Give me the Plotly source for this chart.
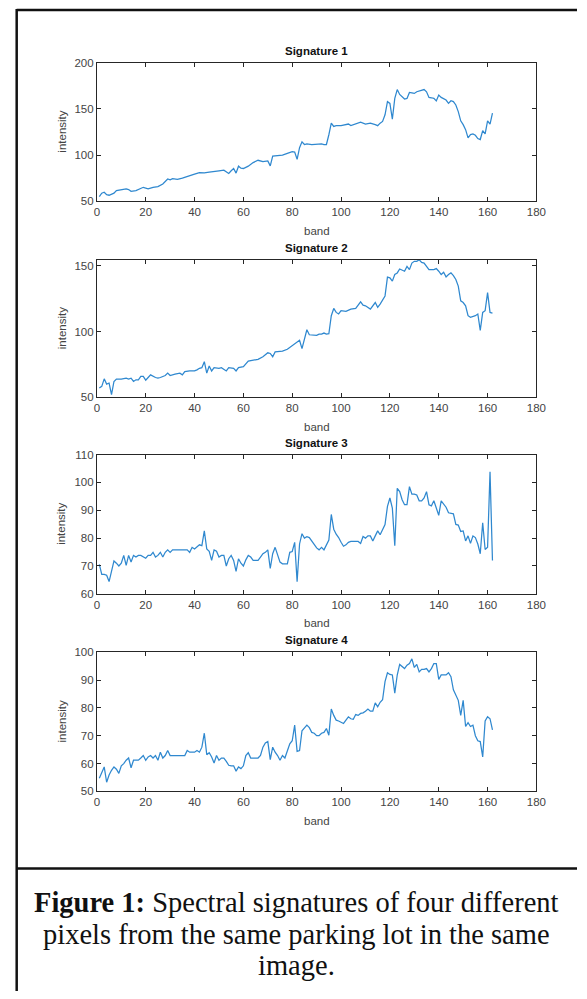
import plotly.graph_objects as go

# ---------------- data ----------------
sig1_band = [1,2,3,4,5,7,8,10,12,13,14,16,18,19,21,23,25,27,29,30,31,33,35,37,40,42,44,46,48,50,52,53,54,55,56,57,58,59,60,62,64,66,68,70,71,72,74,76,78,80,81,82,83,84,85,86,88,90,92,93,94,95,96,97,98,100,102,103,104,106,108,110,112,114,115,116,117,118,119,120,121,122,123,124,125,126,127,128,129,130,131,132,133,134,135,136,137,138,139,140,141,142,143,144,145,146,147,148,149,150,151,152,153,154,155,156,157,158,159,160,161,162]
sig1_val = [55,58.6,59.6,57,56.4,58.6,61.4,62.5,63.2,62.5,60.7,61.4,64,65,63.2,65,65.7,68.6,74,73,74.3,73.6,75,76.4,79.3,81,80.7,81.4,81.8,82.9,83.6,82,80,82.9,85.4,80.4,87.9,85.7,85.4,87.9,91.8,94.3,92.9,93.6,88.2,98.9,99.6,100,101.8,103.6,103.2,95.4,107.9,114.3,111.4,112.1,111.4,112.1,112.1,111.4,111.4,122,134.6,131,131.8,131.8,132.9,133.6,132,133.6,135.7,133.6,134.6,132.9,131.8,134.6,136.4,143.6,157.9,156,138.9,161.4,171,165.7,163.2,160.7,161.4,167.9,167.5,166.8,168.6,169.3,170.7,171,168.6,162.5,162.1,161.4,158.6,165,162.5,160.7,159.6,156,158.9,157.9,154.3,147.1,137.1,132.9,127.5,118.6,122.1,122.9,121.4,117.9,116.8,126.4,122.9,137.1,133.6,145.4]

sig2_band = [1,2,3,4,5,6,7,8,10,12,13,14,15,16,17,18,19,20,21,22,24,25,26,28,29,30,32,34,35,36,38,40,41,42,43,44,45,46,47,48,50,51,53,54,56,57,58,60,62,64,66,68,70,71,72,73,76,78,80,81,82,83,84,85,86,87,88,90,91,92,93,94,95,96,97,98,99,100,102,104,106,108,109,110,112,114,115,116,118,119,120,121,122,123,124,125,126,127,128,129,130,131,132,133,134,135,136,138,139,140,141,142,143,144,145,146,147,148,149,150,151,152,153,155,156,157,158,159,160,161,162]
sig2_val = [57,58.3,64,60,60.8,52,62,63.8,63.8,64.5,63.8,64.5,62,63.3,63.3,65.8,65.8,63,65,67,65,64.5,65,66.5,68.3,66.5,67.5,68.3,67,69.5,70,70,70.8,72,72.5,77,68.3,73.8,70,72.5,72,72.5,70,72.5,72,70,72.5,73.3,77.5,78,78.8,80.8,83.8,83.3,80.8,84.5,85,86.5,89.5,90.8,92,93.3,87,94,101.3,97.5,97.5,97,98,98,98.8,98,98.3,112,117.5,114.5,113.3,115.8,115.3,117,117.5,122.5,120,119.5,117,122,118.3,120.8,127,141.3,140.8,138.3,143.3,144.5,147.5,146.5,145.8,149.5,147,152,153.3,153.3,154.5,152.5,152,149.5,147,147,147.8,145.8,143.3,145,141.5,143.3,144.5,142.5,139.5,134.5,123.3,122,119.5,112,110.8,112,113.3,100.8,114.5,115.8,129.5,114.5,114]

sig3_band = list(range(1, 163))
sig3_val = [70.6,67,67,66.7,64.4,67.9,71.8,71,70,71,73.8,70.2,73.8,71.4,73.8,73.2,73.8,73.8,73.2,72.8,73.8,73.8,74.9,73.2,73.8,74.9,73.2,74.9,75.8,74.9,75.8,75.8,75.8,75.8,75.8,75.8,75.8,74.9,76.7,76.1,76.9,77.6,77.3,82.6,76.1,75.3,72,75.8,75.3,73.2,73.8,73.8,70,72.6,73.8,72,68.1,72.6,71,70,72.2,73.8,73.2,72,72,72,73.2,74.4,74.9,75.8,69.1,74.4,76.7,74.4,71.4,70.8,70.8,70.8,74.9,75.2,78.5,64.4,77.9,81.6,80,80.5,80.2,79,77.6,76.5,75.8,76.7,75.8,77.3,79.3,88.5,83.2,81.4,80.2,78.5,77.1,77.6,78.5,78.8,78.8,78.8,78.8,78.1,80.6,80,80.8,80.8,79,80.8,82.6,81.2,82.8,84.9,91.4,94.4,90.8,77.3,97.9,96.7,93.8,92,92,98.5,95.8,95.8,95.5,93.4,93.4,94.4,96.7,92,91.6,93.4,90.8,88.2,93.4,92,91.1,89.1,88.8,88.7,84.9,84.7,82.4,82.6,79,80.8,78.1,80.8,80.2,77.9,74.4,85.5,75.9,76.7,103.8,72]

sig4_band = list(range(1, 163))
sig4_val = [54.7,56.5,58.8,53.3,55.9,57.6,58.8,58,56.5,59.2,60,61.2,62,58.5,61.2,61.2,61.2,62,62.9,61.2,62.4,62.9,62,62.9,61.2,64.1,62,62.9,64.7,62.9,62.9,62.9,62.9,62.9,62.9,62.9,64.7,64.1,64.1,64.1,64.7,64.1,65.9,70.9,63.2,63.9,62.4,60.2,62.9,61.2,62,62,60.8,59.4,59.2,59.2,57.3,58.8,58.2,59.2,62.9,63.9,62,62,62,62,62.9,65.9,67.4,67.9,61.4,65.9,64.1,62.9,61.2,62.9,62,64.7,67.1,68.2,73.8,64.4,64.7,71.8,72.9,73.8,72.9,71.2,70.9,70,70,70.9,71.2,72.6,70.2,79.6,77.3,75.6,75.3,74.9,74.4,75.6,76.8,76.1,75.9,77.6,77.3,78,78.2,78.8,79.6,78.8,78.8,81.8,80.4,82,82.9,89.4,92.6,92,91.8,85.3,91.8,95.6,94.7,94.1,95.3,95.9,97.6,94.5,95.6,92.9,93.8,93.8,94.1,92.9,94.1,95.9,95.9,90.2,91.8,91.8,91.8,92.6,91.2,86.5,84.4,82.7,77.3,82.7,73.3,74.7,73.3,73.8,70,68.2,67.9,62.4,75.3,76.8,76.1,72.1]

titles = ["Signature 1", "Signature 2", "Signature 3", "Signature 4"]
y_ranges = [[50, 200], [50, 154.4], [60, 110], [50, 100]]
y_ticks = [[50, 100, 150, 200], [50, 100, 150], [60, 70, 80, 90, 100, 110], [50, 60, 70, 80, 90, 100]]
x_ticks = [0, 20, 40, 60, 80, 100, 120, 140, 160, 180]
x_label = "band"
y_label = "intensity"
caption = ["<b>Figure 1:</b> Spectral signatures of four different",
           "pixels from the same parking lot in the same",
           "image."]

# ---------------- layout geometry (pixels) ----------------
W, H = 587, 999
x_left, x_right = 96, 545.5
plot_px = [(57.5, 197.5), (257, 396), (454, 595), (654, 795)]

def py(v):
    return 1 - v / H

LINE = "#2f88cf"
AX = "#262626"
TICKF = dict(family="Liberation Sans, Arial, sans-serif", size=11.5, color="#444")

fig = go.Figure()
series = [(sig1_band, sig1_val), (sig2_band, sig2_val), (sig3_band, sig3_val), (sig4_band, sig4_val)]
annotations = []
layout = {}
xd = [x_left / W, x_right / W]
xc = (x_left + x_right) / 2 / W
for i, (bx, by) in enumerate(series):
    n = i + 1
    sfx = "" if n == 1 else str(n)
    fig.add_trace(go.Scatter(x=bx, y=by, mode="lines", line=dict(color=LINE, width=1.25),
                             xaxis="x" + sfx, yaxis="y" + sfx, showlegend=False,
                             hoverinfo="skip"))
    top, bot = plot_px[i]
    common = dict(showline=True, linecolor=AX, linewidth=1, mirror="ticks", ticks="inside",
                  ticklen=4, tickcolor=AX, showgrid=False, zeroline=False, tickfont=TICKF)
    layout["xaxis" + sfx] = dict(domain=xd, range=[0, 180], tickvals=x_ticks,
                                  anchor="y" + sfx, fixedrange=True, **common)
    layout["yaxis" + sfx] = dict(domain=[py(bot), py(top)], range=y_ranges[i], tickvals=y_ticks[i],
                                  anchor="x" + sfx, fixedrange=True, **common)
    annotations.append(dict(text="<b>" + titles[i] + "</b>", xref="paper", yref="paper",
                            x=xc, y=py(top - 12), xanchor="center", yanchor="middle",
                            showarrow=False, font=dict(family="Liberation Sans, Arial", size=11.5, color="#111")))
    annotations.append(dict(text=x_label, xref="paper", yref="paper", x=xc, y=py(bot + 30),
                            xanchor="center", yanchor="middle", showarrow=False,
                            font=dict(family="Liberation Sans, Arial", size=11.5, color="#444")))
    annotations.append(dict(text=y_label, xref="paper", yref="paper", x=60 / W, y=py((top + bot) / 2),
                            xanchor="center", yanchor="middle", textangle=-90, showarrow=False,
                            font=dict(family="Liberation Sans, Arial", size=11.5, color="#444")))

cap_y = [907, 940, 971]
for txt, yy in zip(caption, cap_y):
    annotations.append(dict(text=txt, xref="paper", yref="paper", x=300.5 / W, y=py(yy),
                            xanchor="center", yanchor="middle", showarrow=False,
                            font=dict(family="Liberation Serif, Times New Roman, serif", size=28.5, color="#111")))

shapes = [
    dict(type="line", xref="paper", yref="paper", x0=14 / W, x1=1, y0=py(4), y1=py(4),
         line=dict(color="#111", width=2.5)),
    dict(type="line", xref="paper", yref="paper", x0=14 / W, x1=14 / W, y0=py(3), y1=py(997),
         line=dict(color="#111", width=2.5)),
    dict(type="line", xref="paper", yref="paper", x0=14 / W, x1=1, y0=py(873), y1=py(873),
         line=dict(color="#111", width=2.5)),
]

fig.update_layout(width=W, height=H, margin=dict(l=0, r=0, t=0, b=0),
                  paper_bgcolor="white", plot_bgcolor="white",
                  annotations=annotations, shapes=shapes, **layout)

fig.write_html("out.html", config={"displayModeBar": False},
               post_script="document.body.style.margin='0';document.body.style.overflow='hidden';")
